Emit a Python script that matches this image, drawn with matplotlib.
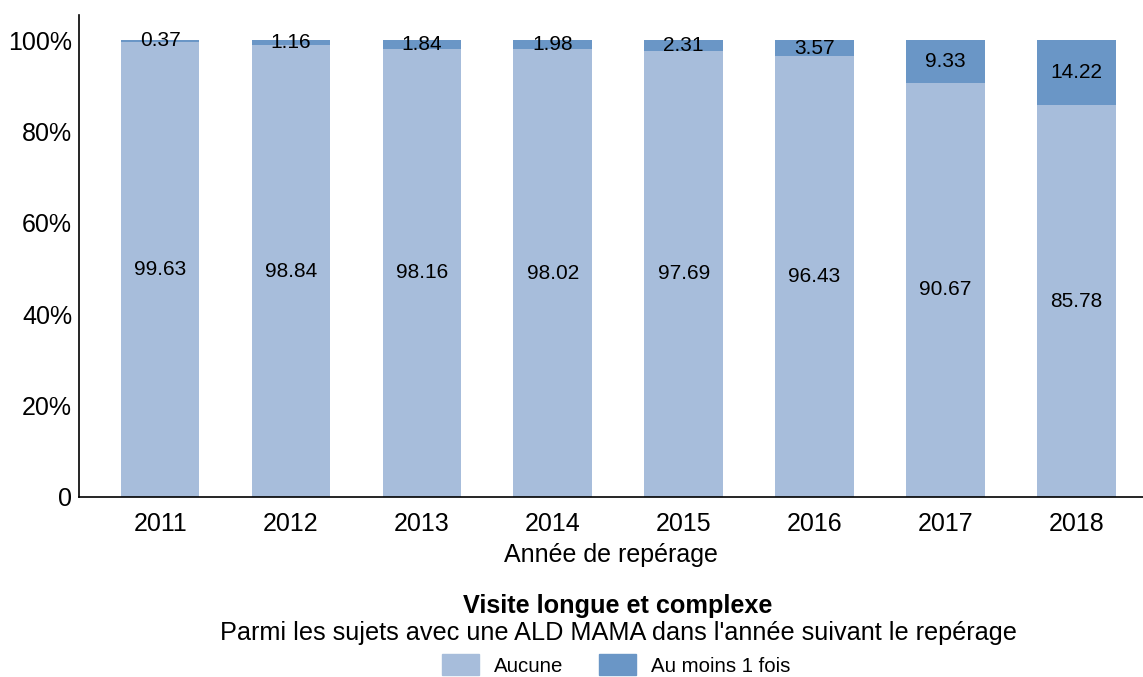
import matplotlib
matplotlib.use("Agg")
import matplotlib.pyplot as plt
from matplotlib.patches import Patch

years = ["2011", "2012", "2013", "2014", "2015", "2016", "2017", "2018"]
aucune = [99.63, 98.84, 98.16, 98.02, 97.69, 96.43, 90.67, 85.78]
au_moins = [0.37, 1.16, 1.84, 1.98, 2.31, 3.57, 9.33, 14.22]
yticks = [0, 20, 40, 60, 80, 100]
ytick_labels = ["0", "20%", "40%", "60%", "80%", "100%"]

c_light = "#A7BDDB"
c_dark = "#6A96C6"

plt.rcParams['font.family'] = ['Liberation Sans', 'DejaVu Sans']

fig = plt.figure(figsize=(11.43, 6.77), dpi=100)
ax = fig.add_axes([79/1143, 1-497/677, 1-79/1143, (497-15)/677])

x = list(range(len(years)))
ax.bar(x, aucune, width=0.6, color=c_light, edgecolor='none')
ax.bar(x, au_moins, width=0.6, bottom=aucune, color=c_dark, edgecolor='none')

for i in x:
    ax.text(i, aucune[i] / 2, f"{aucune[i]:.2f}", ha='center', va='center', fontsize=15)
    ax.text(i, aucune[i] + au_moins[i] / 2, f"{au_moins[i]:.2f}", ha='center', va='center', fontsize=15)

ax.set_xlim(-0.62, 7.51)
ax.set_ylim(0, 105.5)
ax.set_xticks(x)
ax.set_xticklabels(years, fontsize=18)
ax.set_yticks(yticks)
ax.set_yticklabels(ytick_labels, fontsize=18)
ax.tick_params(axis='x', length=0, pad=11)
ax.tick_params(axis='y', length=0, pad=5)
ax.spines['top'].set_visible(False)
ax.spines['right'].set_visible(False)
ax.spines['left'].set_linewidth(1.2)
ax.spines['bottom'].set_linewidth(1.2)
ax.set_xlabel("Année de repérage", fontsize=18, labelpad=5)

fig.text(618/1143, 1-606/677, "Visite longue et complexe", ha='center', va='center',
         fontsize=18.2, fontweight='bold')
fig.text(618/1143, 1-633/677, "Parmi les sujets avec une ALD MAMA dans l'année suivant le repérage",
         ha='center', va='center', fontsize=18.2)

handles = [Patch(color=c_light, label="Aucune"), Patch(color=c_dark, label="Au moins 1 fois")]
fig.legend(handles=handles, loc='center', bbox_to_anchor=(616/1143, 1-665/677), ncol=2,
           frameon=False, fontsize=14.7, handlelength=1.8, handleheight=1.2,
           columnspacing=1.75, handletextpad=0.74)

fig.savefig("out.png", dpi=100)
